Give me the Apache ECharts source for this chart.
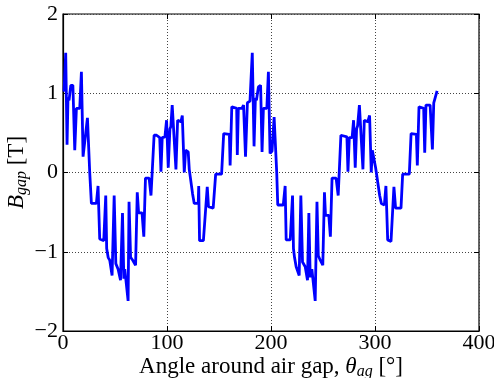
<!DOCTYPE html>
<html><head><meta charset="utf-8">
<script src="https://cdn.jsdelivr.net/npm/echarts@6/dist/echarts.min.js"></script>
<style>html,body{margin:0;padding:0;background:#fff}#c{width:494px;height:378px}</style>
</head><body><div id="c"></div>
<script>
var xTicks = [0, 100, 200, 300, 400];
var yTicks = [-2, -1, 0, 1, 2];
var theta = [1.0,2.6,3.9,4.8,5.8,7.5,9.5,11.3,12.9,16.1,17.7,19.3,20.9,23.5,25.7,27.3,32.1,33.7,35.3,39.2,41.1,42.0,43.4,45.0,47.2,49.2,50.8,53.0,54.6,55.3,57.2,58.5,59.4,61.0,62.6,63.5,65.0,67.2,69.8,71.4,72.7,76.0,77.7,79.3,82.8,84.6,86.0,87.6,90.0,93.0,94.2,95.4,98.0,99.6,101.2,102.8,103.7,105.0,106.9,108.6,110.2,113.4,114.7,116.6,117.9,120.4,121.4,122.7,124.6,126.2,130.0,130.5,131.3,135.0,136.6,138.7,139.9,144.4,146.8,152.5,154.5,160.0,160.7,162.3,167.0,167.6,168.6,172.0,173.6,175.5,177.3,179.8,182.0,183.7,185.0,186.0,187.9,190.0,191.4,192.7,196.0,197.5,199.1,201.0,203.0,205.5,206.5,211.8,213.6,214.6,218.5,220.7,221.6,222.6,224.2,227.1,228.7,230.3,232.9,235.1,236.4,237.7,239.3,240.9,242.5,244.2,245.5,247.5,249.8,251.4,252.4,255.6,257.1,258.7,262.6,264.6,266.0,267.2,273.0,274.0,275.3,278.0,279.4,281.0,282.3,283.3,285.0,286.5,288.4,289.7,293.0,294.8,296.4,297.4,299.3,300.6,302.5,304.5,306.1,309.0,310.5,312.2,315.4,316.7,318.2,319.8,325.0,326.6,333.0,334.7,339.8,340.7,342.3,346.8,347.8,349.0,353.0,355.2,356.5,358.0,359.7];
var bgap = [1.02,1.51,0.35,0.94,0.91,1.10,1.10,0.28,0.81,0.81,1.27,0.20,0.22,0.69,0.0,-0.39,-0.39,-0.17,-0.84,-0.86,-0.29,-0.96,-1.07,-1.11,-1.30,-0.29,-1.15,-1.22,-1.24,-1.36,-0.51,-1.34,-1.22,-1.24,-1.62,-0.37,-1.07,-1.11,-1.17,-0.25,-0.51,-0.51,-0.81,-0.07,-0.07,-0.29,-0.27,0.47,0.47,0.44,0.01,0.44,0.45,0.66,0.06,0.55,0.58,0.85,0.87,0.04,0.66,0.64,0.72,0.0,0.28,0.26,0.04,0.02,-0.27,-0.39,-0.39,-0.17,-0.86,-0.86,-0.88,-0.18,-0.43,-0.45,-0.02,-0.02,0.49,0.48,0.09,0.83,0.81,0.22,0.81,0.81,0.85,0.20,0.88,0.90,1.51,0.33,0.94,0.91,1.08,1.10,0.26,0.81,0.81,1.27,0.24,0.27,0.70,0.0,-0.41,-0.41,-0.17,-0.85,-0.85,-0.29,-0.96,-1.07,-1.19,-1.30,-0.29,-1.13,-1.19,-1.36,-0.51,-1.32,-1.22,-1.24,-1.62,-0.37,-1.05,-1.11,-1.17,-0.25,-0.54,-0.54,-0.81,-0.07,-0.07,-0.29,-0.27,0.47,0.45,0.01,0.44,0.44,0.66,0.06,0.55,0.59,0.85,0.87,0.04,0.66,0.64,0.72,0.0,0.28,0.28,0.06,0.06,-0.29,-0.39,-0.41,-0.17,-0.85,-0.87,-0.88,-0.18,-0.45,-0.45,-0.02,-0.02,0.49,0.48,0.09,0.83,0.81,0.25,0.85,0.85,0.29,0.88,0.90,1.03];

var data = theta.map(function (t, i) { return [t, bgap[i]]; });
var FONT = 'Liberation Serif';
function fmt(v) { return String(v).replace('-', '\u2212'); }

var chart = echarts.init(document.getElementById('c'), null, { renderer: 'canvas' });
var gridLine = { show: true, lineStyle: { color: '#444', type: [1, 2], width: 1 } };
var nameRich = {
  n: { fontFamily: FONT, fontSize: 23, color: '#000' },
  i: { fontFamily: FONT, fontSize: 23, fontStyle: 'italic', color: '#000' },
  s: { fontFamily: FONT, fontSize: 16, fontStyle: 'italic', color: '#000', padding: [11, 0, 0, 0] }
};
chart.setOption({
  animation: false,
  grid: { left: 63, right: 15, top: 14, bottom: 47, show: true, borderColor: '#000', borderWidth: 1.2, backgroundColor: '#fff', containLabel: false, outerBoundsMode: 'none' },
  xAxis: [{
    type: 'value', min: xTicks[0], max: xTicks[xTicks.length - 1], interval: 100,
    axisLine: { show: true, onZero: false, lineStyle: { color: '#000', width: 1.2 } },
    axisTick: { show: true, inside: true, length: 5, lineStyle: { color: '#000' } },
    axisLabel: { color: '#000', fontFamily: FONT, fontSize: 22, margin: 1, formatter: fmt },
    splitLine: gridLine,
    name: '{n|Angle around air gap, }{i|\u03b8}{s|ag}{n| [\u00b0]}',
    nameLocation: 'middle', nameGap: 22, nameMoveOverlap: false,
    nameTextStyle: { rich: nameRich }
  }, {
    type: 'value', position: 'top', min: xTicks[0], max: xTicks[xTicks.length - 1], interval: 100,
    axisLine: { show: false, onZero: false }, axisLabel: { show: false }, splitLine: { show: false },
    axisTick: { show: true, inside: true, length: 5, lineStyle: { color: '#000' } }
  }],
  yAxis: [{
    type: 'value', min: yTicks[0], max: yTicks[yTicks.length - 1], interval: 1,
    axisLine: { show: true, onZero: false, lineStyle: { color: '#000', width: 1.2 } },
    axisTick: { show: true, inside: true, length: 5, lineStyle: { color: '#000' } },
    axisLabel: { color: '#000', fontFamily: FONT, fontSize: 22, margin: 5, formatter: fmt },
    splitLine: gridLine,
    name: '{i|B}{s|gap}{n| [T]}',
    nameLocation: 'middle', nameGap: 33, nameRotate: 90, nameMoveOverlap: false,
    nameTextStyle: { rich: nameRich }
  }, {
    type: 'value', position: 'right', min: yTicks[0], max: yTicks[yTicks.length - 1], interval: 1,
    axisLine: { show: false, onZero: false }, axisLabel: { show: false }, splitLine: { show: false },
    axisTick: { show: true, inside: true, length: 5, lineStyle: { color: '#000' } }
  }],
  series: [{
    type: 'line', data: data, showSymbol: false, smooth: false,
    lineStyle: { color: '#0000ff', width: 2.8 }, clip: true
  }]
});
</script></body></html>
